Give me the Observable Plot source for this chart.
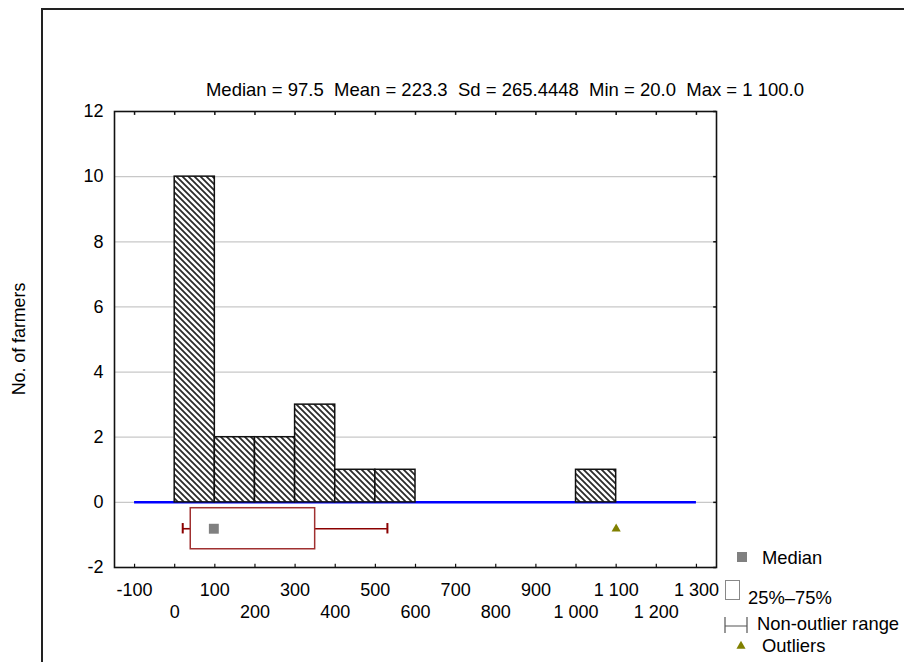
<!DOCTYPE html>
<html><head><meta charset="utf-8">
<script src="https://cdn.jsdelivr.net/npm/d3@7"></script>
<script src="https://cdn.jsdelivr.net/npm/@observablehq/plot@0.6"></script>
<style>body{margin:0;background:#fff} svg{display:block}</style>
</head><body><div id="chart"></div>
<script>
// ---- data ----
const binStarts = [0, 100, 200, 300, 400, 500, 1000];
const counts = [10, 2, 2, 3, 1, 1, 1];
const binWidth = 100;
const boxStats = {whiskerLow: 20, q1: 40, median: 97.5, q3: 350, whiskerHigh: 530};
const outliers = [1100];
const xTicksOdd = [-100, 100, 300, 500, 700, 900, 1100, 1300];
const xTicksEven = [0, 200, 400, 600, 800, 1000, 1200];
const yTicks = [-2, 0, 2, 4, 6, 8, 10, 12];
const gridValues = [0, 2, 4, 6, 8, 10];
const titleText = "Median = 97.5  Mean = 223.3  Sd = 265.4448  Min = 20.0  Max = 1 100.0";
const yLabel = "No. of farmers";
const legendLabels = ["Median", "25%\u201375%", "Non-outlier range", "Outliers"];

const bars = binStarts.map((x0, i) => ({x0, x1: x0 + binWidth, n: counts[i]}));
const allXTicks = [...xTicksOdd, ...xTicksEven];
const fmt = n => String(n).replace(/\B(?=(\d{3})+(?!\d))/g, " ");

const boxY = -0.81, boxH = 0.63, capH = 0.16;
const font = "'Liberation Sans', Arial, sans-serif";
const fs = 18;

const plot = Plot.plot({
  width: 904, height: 662,
  marginLeft: 114, marginRight: 188, marginTop: 111, marginBottom: 95,
  style: {fontFamily: font, fontSize: "18px", color: "#000", background: "#fff"},
  x: {domain: [-150, 1350]},
  y: {domain: [-2, 12]},
  marks: [
    Plot.ruleY(gridValues, {y: d => d, stroke: "#c8c8c8", strokeWidth: 1.2}),
    Plot.ruleY([0], {y: d => d, x1: () => -100, x2: () => 1300, stroke: "#0000ff", strokeWidth: 2.5}),
    Plot.rect(bars, {x1: "x0", x2: "x1", y1: () => 0, y2: "n", fill: "url(#hatch)", stroke: "#111", strokeWidth: 1.5}),
    Plot.ruleY([boxStats], {y: () => boxY, x1: "whiskerLow", x2: "q1", stroke: "#8b0000", strokeWidth: 1.6}),
    Plot.ruleY([boxStats], {y: () => boxY, x1: "q3", x2: "whiskerHigh", stroke: "#8b0000", strokeWidth: 1.6}),
    Plot.ruleX([boxStats.whiskerLow, boxStats.whiskerHigh], {x: d => d, y1: () => boxY - capH, y2: () => boxY + capH, stroke: "#8b0000", strokeWidth: 2}),
    Plot.rect([boxStats], {x1: "q1", x2: "q3", y1: () => boxY - boxH, y2: () => boxY + boxH, fill: "white", stroke: "#a03030", strokeWidth: 1.5}),
    Plot.dot([boxStats], {x: "median", y: () => boxY, symbol: "square", r: 5.6, fill: "#808080", stroke: null}),
    Plot.dot(outliers, {x: d => d, y: () => boxY, symbol: "triangle", r: 3.4, fill: "#808000", stroke: null}),
    Plot.ruleX(allXTicks, {x: d => d, y1: () => 12, y2: () => 11.88, stroke: "#111", strokeWidth: 1.5}),
    Plot.ruleX(allXTicks, {x: d => d, y1: () => -2, y2: () => -1.9, stroke: "#111", strokeWidth: 1.2}),
    Plot.ruleY(yTicks, {y: d => d, x1: () => 1350, x2: () => 1343, stroke: "#111", strokeWidth: 1.5}),
    Plot.frame({stroke: "#111", strokeWidth: 1.6}),
    Plot.axisY({ticks: yTicks, tickSize: 0, tickPadding: 11, label: null, tickFormat: fmt, fontSize: fs}),
    Plot.axisX({ticks: xTicksOdd, tickSize: 0, tickPadding: 16, label: null, tickFormat: fmt, fontSize: fs}),
    Plot.axisX({ticks: xTicksEven, tickSize: 0, tickPadding: 38, label: null, tickFormat: fmt, fontSize: fs})
  ]
});

const svg = d3.select(plot);
const defs = svg.insert("defs", ":first-child");
const pat = defs.append("pattern").attr("id", "hatch").attr("patternUnits", "userSpaceOnUse")
  .attr("width", 6).attr("height", 6);
pat.append("rect").attr("width", 6).attr("height", 6).attr("fill", "#fff");
pat.append("path").attr("d", "M0,0L6,6M-1,5L1,7M5,-1L7,1").attr("stroke", "#2a2a2a").attr("stroke-width", 1.8);

// outer frame
svg.append("path").attr("d", "M42,662V9H904").attr("fill", "none").attr("stroke", "#222").attr("stroke-width", 2);

// title
svg.append("text").attr("x", 505).attr("y", 96).attr("text-anchor", "middle")
  .style("white-space", "pre").attr("font-family", font).attr("font-size", 18.5).attr("fill", "#000")
  .text(titleText);

// y label
svg.append("text").attr("transform", "translate(25,339) rotate(-90)").attr("text-anchor", "middle")
  .attr("font-family", font).attr("font-size", 17.8).attr("fill", "#000").text(yLabel);

// legend
const lg = svg.append("g").attr("font-family", font).attr("font-size", 18.4).attr("fill", "#000").attr("text-anchor", "start");
lg.append("rect").attr("x", 737).attr("y", 552).attr("width", 10).attr("height", 10).attr("fill", "#808080");
lg.append("text").attr("x", 762).attr("y", 564).text(legendLabels[0]);
lg.append("rect").attr("x", 725.5).attr("y", 580.5).attr("width", 14).attr("height", 19).attr("fill", "#fff").attr("stroke", "#888");
lg.append("text").attr("x", 748).attr("y", 604).text(legendLabels[1]);
lg.append("path").attr("d", "M725,617V633M725,626H747M747,617V633").attr("stroke", "#555").attr("stroke-width", 1.2).attr("fill", "none");
lg.append("text").attr("x", 757).attr("y", 630).text(legendLabels[2]);
lg.append("path").attr("d", d3.symbol(d3.symbolTriangle, 36)()).attr("transform", "translate(741,646)").attr("fill", "#808000");
lg.append("text").attr("x", 762).attr("y", 652).text(legendLabels[3]);

document.getElementById("chart").appendChild(plot);
</script>
</body></html>
